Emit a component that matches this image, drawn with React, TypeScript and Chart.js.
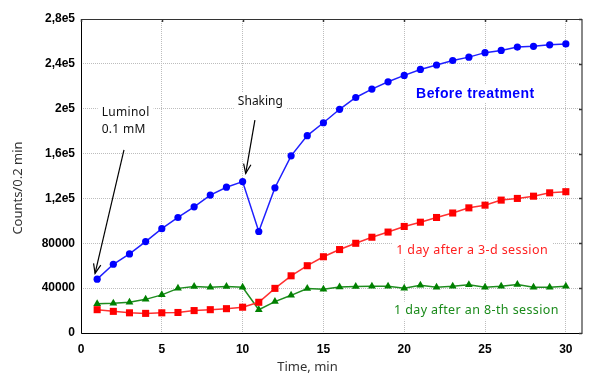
import React, { useEffect, useRef } from "react";
import { Chart, registerables } from "chart.js";

Chart.register(...registerables);

const timeMin = [1, 2, 3, 4, 5, 6, 7, 8, 9, 10, 11, 12, 13, 14, 15, 16, 17, 18, 19, 20, 21, 22, 23, 24, 25, 26, 27, 28, 29, 30];
const beforeTreatment = [48000, 61300, 70500, 81500, 93000, 103000, 112500, 123000, 130000, 135000, 90500, 129500, 158000, 176000, 187500, 199500, 210000, 217500, 224000, 229700, 235000, 239000, 243000, 246000, 250000, 252000, 255000, 255600, 257000, 257800];
const after3dSession = [20800, 19300, 18000, 17500, 18000, 18300, 20000, 20800, 21700, 23000, 27400, 39800, 51000, 60000, 68000, 74400, 80000, 85400, 90000, 95000, 98800, 103000, 107000, 111600, 114000, 118500, 120000, 122000, 125000, 126000];
const after8thSession = [26000, 26500, 27400, 30000, 34000, 39800, 41400, 40800, 41400, 40800, 20800, 28000, 33600, 39600, 39000, 41000, 41400, 41600, 41600, 40000, 42600, 40800, 41600, 43000, 40800, 41700, 43200, 40800, 40800, 41600];

const xTickValues = [0, 5, 10, 15, 20, 25, 30];
const yTickValues = [0, 40000, 80000, 120000, 160000, 200000, 240000, 280000];
const yTickLabels = ["0", "40000", "80000", "1,2e5", "1,6e5", "2e5", "2,4e5", "2,8e5"];

const xTitle = "Time, min";
const yTitle = "Counts/0.2 min";

type Note = { text: string; x: number; y: number; align: CanvasTextAlign; font: string; color: string; spacing: string };
const noteFont = '12px "Noto Sans"';
const labelFont = '12.5px "Noto Sans"';
const notes: Note[] = [
  { text: "Luminol", x: 1.28, y: 197000, align: "left", font: noteFont, color: "#111", spacing: "0.3px" },
  { text: "0.1 mM", x: 1.28, y: 181500, align: "left", font: noteFont, color: "#111", spacing: "0.3px" },
  { text: "Shaking", x: 11.1, y: 206300, align: "center", font: noteFont, color: "#111", spacing: "0px" },
  { text: "Before treatment", x: 24.4, y: 213100, align: "center", font: 'bold 14px "Liberation Sans"', color: "#0000ff", spacing: "0.4px" },
  { text: "1 day after a 3-d session", x: 24.2, y: 74000, align: "center", font: labelFont, color: "#ff2020", spacing: "0.4px" },
  { text: "1 day after an 8-th session", x: 24.47, y: 19900, align: "center", font: labelFont, color: "#1a8a1a", spacing: "0.4px" },
];

const arrows = [
  { from: [2.66, 163200], to: [0.87, 53200] },
  { from: [10.76, 189900], to: [10.19, 142400] },
];

const decorPlugin = {
  id: "decor",
  beforeDatasetsDraw(chart: any) {
    const { ctx, chartArea: a, scales } = chart;
    const x = scales.x;
    const y = scales.y;
    ctx.save();
    ctx.textBaseline = "middle";
    for (const n of notes) {
      ctx.font = n.font;
      (ctx as any).letterSpacing = n.spacing;
      const w = ctx.measureText(n.text).width;
      const px = x.getPixelForValue(n.x);
      const py = y.getPixelForValue(n.y);
      let left = px;
      if (n.align === "center") left = px - w / 2;
      ctx.fillStyle = "#ffffff";
      ctx.fillRect(left - 4, py - 9, w + 8, 18);
      ctx.fillStyle = n.color;
      ctx.textAlign = n.align;
      ctx.fillText(n.text, px, py);
    }
    (ctx as any).letterSpacing = "0px";
    ctx.lineWidth = 1;
    ctx.strokeStyle = "#333";
    ctx.beginPath();
    ctx.moveTo(a.left, a.top + 0.5);
    ctx.lineTo(a.right, a.top + 0.5);
    ctx.stroke();
    ctx.strokeStyle = "#000";
    ctx.beginPath();
    ctx.moveTo(a.left + 0.5, a.top);
    ctx.lineTo(a.left + 0.5, a.bottom + 0.5);
    ctx.lineTo(a.right, a.bottom + 0.5);
    ctx.stroke();
    ctx.strokeStyle = "#888";
    ctx.lineWidth = 2;
    ctx.beginPath();
    ctx.moveTo(a.right, a.top);
    ctx.lineTo(a.right, a.bottom + 1);
    ctx.stroke();
    ctx.strokeStyle = "#333";
    ctx.lineWidth = 1.5;
    for (const v of yTickValues) {
      const py = Math.round(y.getPixelForValue(v)) + 0.5;
      ctx.beginPath();
      ctx.moveTo(a.right - 3, py);
      ctx.lineTo(a.right, py);
      ctx.stroke();
    }
    for (const v of xTickValues) {
      const px = Math.round(x.getPixelForValue(v)) + 0.5;
      ctx.beginPath();
      ctx.moveTo(px, a.top);
      ctx.lineTo(px, a.top + 3);
      ctx.stroke();
    }
    ctx.restore();
  },
  afterDraw(chart: any) {
    const { ctx, chartArea: a, scales } = chart;
    const x = scales.x;
    const y = scales.y;
    ctx.save();
    ctx.strokeStyle = "#000";
    ctx.lineWidth = 1.2;
    for (const ar of arrows) {
      const x1 = x.getPixelForValue(ar.from[0]);
      const y1 = y.getPixelForValue(ar.from[1]);
      const x2 = x.getPixelForValue(ar.to[0]);
      const y2 = y.getPixelForValue(ar.to[1]);
      const ang = Math.atan2(y2 - y1, x2 - x1);
      ctx.beginPath();
      ctx.moveTo(x1, y1);
      ctx.lineTo(x2, y2);
      ctx.stroke();
      const L = 10;
      const sp = 0.38;
      ctx.beginPath();
      ctx.moveTo(x2 - L * Math.cos(ang - sp), y2 - L * Math.sin(ang - sp));
      ctx.lineTo(x2, y2);
      ctx.lineTo(x2 - L * Math.cos(ang + sp), y2 - L * Math.sin(ang + sp));
      ctx.stroke();
    }
    ctx.fillStyle = "#333";
    ctx.font = '13px "Noto Sans"';
    ctx.textAlign = "center";
    ctx.textBaseline = "middle";
    ctx.save();
    ctx.translate(18, (a.top + a.bottom) / 2 + 12);
    ctx.rotate(-Math.PI / 2);
    ctx.fillText(yTitle, 0, 0);
    ctx.restore();
    ctx.fillText(xTitle, (a.left + a.right) / 2 - 24, 367);
    ctx.restore();
  },
};

export default function App() {
  const ref = useRef<HTMLCanvasElement | null>(null);
  useEffect(() => {
    if (!ref.current) return;
    const tickFont = { family: '"Liberation Sans", Arial, sans-serif', size: 12, weight: "bold" as const };
    const chart = new Chart(ref.current, {
      type: "line",
      data: {
        datasets: [
          {
            data: timeMin.map((t, i) => ({ x: t, y: beforeTreatment[i] })),
            borderColor: "#1f1fff",
            backgroundColor: "#0000ff",
            borderWidth: 1.5,
            pointStyle: "circle",
            pointRadius: 3.6,
            pointBorderWidth: 0,
          },
          {
            data: timeMin.map((t, i) => ({ x: t, y: after3dSession[i] })),
            borderColor: "#ff3030",
            backgroundColor: "#ff0000",
            borderWidth: 1.5,
            pointStyle: "rect",
            pointRadius: 5,
            pointBorderWidth: 0,
          },
          {
            data: timeMin.map((t, i) => ({ x: t, y: after8thSession[i] })),
            borderColor: "#1e8c1e",
            backgroundColor: "#008000",
            borderWidth: 1.5,
            pointStyle: "triangle",
            pointRadius: 4.5,
            pointBorderWidth: 0,
          },
        ],
      },
      options: {
        responsive: false,
        animation: false,
        devicePixelRatio: 1,
        layout: { padding: { left: 0, right: 18, top: 19, bottom: 0 } },
        plugins: { legend: { display: false }, tooltip: { enabled: false } },
        scales: {
          x: {
            type: "linear",
            min: 0,
            max: 31,
            afterBuildTicks: (s: any) => {
              s.ticks = xTickValues.map((v) => ({ value: v }));
            },
            afterFit: (s: any) => {
              s.height = 56;
            },
            grid: { color: "#bdbdbd", lineWidth: 1, drawTicks: false },
            border: { display: false, dash: [1, 1] },
            ticks: { padding: 9, font: tickFont, color: "#000", maxRotation: 0, autoSkip: false },
          },
          y: {
            type: "linear",
            min: 0,
            max: 280000,
            afterBuildTicks: (s: any) => {
              s.ticks = yTickValues.map((v) => ({ value: v }));
            },
            afterFit: (s: any) => {
              s.width = 81;
            },
            grid: { color: "#bdbdbd", lineWidth: 1, drawTicks: false },
            border: { display: false, dash: [1, 1] },
            ticks: {
              padding: 6,
              font: tickFont,
              color: "#000",
              autoSkip: false,
              callback: (v: any) => {
                const i = yTickValues.indexOf(Number(v));
                return i >= 0 ? yTickLabels[i] : "";
              },
            },
          },
        },
      },
      plugins: [decorPlugin],
    });
    return () => chart.destroy();
  }, []);
  return (
    <div style={{ position: "fixed", left: 0, top: 0, width: 600, height: 389, background: "#fff" }}>
      <canvas ref={ref} width={600} height={389} style={{ width: 600, height: 389, display: "block" }} />
    </div>
  );
}
